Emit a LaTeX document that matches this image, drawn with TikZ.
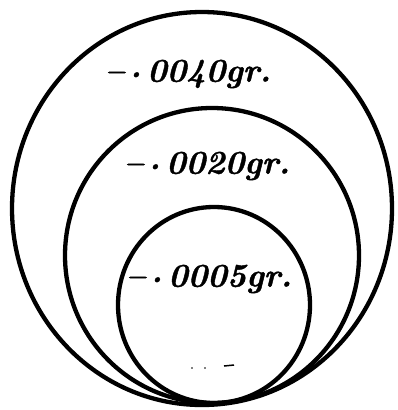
\documentclass[tikz,border=0pt]{standalone}
\usepackage{fontspec}
\newfontface\labfont[FakeBold=1.2,Ligatures=TeX]{lmroman10-bolditalic.otf}
\usetikzlibrary{shapes.geometric}
\begin{document}
\begin{tikzpicture}[x=1pt,y=-1pt,
  ring/.style={draw=black,line width=4.3pt,ellipse,inner sep=0pt},
  lab/.style={font=\fontsize{33}{35}\labfont,inner sep=0pt},
  speck/.style={line width=1.5pt}]
\useasboundingbox (0,0) rectangle (398,410);
\node[ring,minimum width=380pt,minimum height=393pt] (outer) at (202,208.5) {};
\node[ring,minimum width=294pt,minimum height=295pt] (middle) at (212,255.5) {};
\node[ring,minimum width=192pt,minimum height=196pt] (inner) at (214,305) {};
\node[lab] (l1) at (188,74) {--\,\raisebox{0.3ex}{.}\,0040gr.};
\node[lab] (l2) at (207,166) {--\,\raisebox{0.3ex}{.}\,0020gr.};
\node[lab] (l3) at (209,279) {--\,\raisebox{0.3ex}{.}\,0005gr.};
\coordinate (s1) at (224,366);
\coordinate (s2) at (234,365);
\draw[speck] (s1) -- (s2);
\fill (192,368) circle (0.8pt) (205,368) circle (0.8pt);
\end{tikzpicture}
\end{document}
